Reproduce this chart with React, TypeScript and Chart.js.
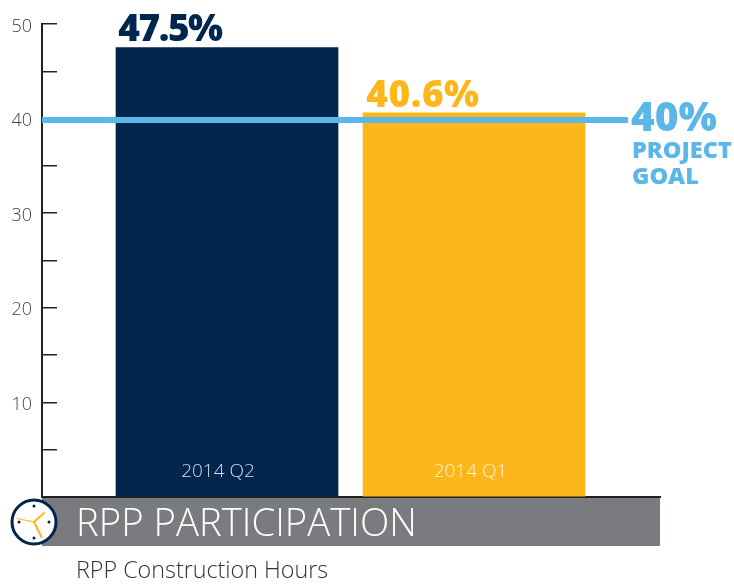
import React, { useEffect, useRef } from "react";
import { Chart, registerables } from "chart.js";

Chart.register(...registerables);

const categories = ["2014 Q2", "2014 Q1"];
const categoryPositions = [1, 2];
const participation = [47.5, 40.6];
const barColors = ["#00264d", "#fdb71a"];
const valueLabels = ["47.5%", "40.6%"];
const goalValue = 39.85;
const goalSpan = [0.251, 2.6235];
const goalLabel = "40%";
const goalCaption = ["PROJECT", "GOAL"];
const yTicksLabelled = [10, 20, 30, 40, 50];
const title = "RPP PARTICIPATION";
const subtitle = "RPP Construction Hours";
const BLUE = "#5ab7e8";
const FONT = '"Open Sans", "Noto Sans", sans-serif';

const decorations = {
  id: "decorations",
  afterDatasetsDraw(chart: any) {
    const { ctx } = chart;
    const barMeta = chart.getDatasetMeta(1);
    ctx.save();
    ctx.textBaseline = "alphabetic";

    barMeta.data.forEach((bar: any, i: number) => {
      ctx.textAlign = "center";
      ctx.fillStyle = barColors[i];
      ctx.font = `800 37px ${FONT}`;
      ctx.letterSpacing = i === 0 ? "-1.5px" : "0.5px";
      ctx.fillText(valueLabels[i], bar.x - 57 + i * 6, bar.y - 7 + i);
      ctx.letterSpacing = "0px";
      ctx.fillStyle = i === 0 ? "#d5dbe3" : "#fff2cf";
      ctx.font = `300 19px ${FONT}`;
      ctx.fillText(categories[i], bar.x - 9 + i * 5.5, 477);
    });

    ctx.textAlign = "left";
    ctx.fillStyle = BLUE;
    ctx.font = `800 40.5px ${FONT}`;
    ctx.fillText(goalLabel, 631, 131);
    ctx.font = `800 23.5px ${FONT}`;
    ctx.fillText(goalCaption[0], 632, 158);
    ctx.fillText(goalCaption[1], 632, 184);

    // title banner
    ctx.fillStyle = "#797b7e";
    ctx.fillRect(42, 498, 618, 48);
    ctx.fillStyle = "#ffffff";
    ctx.font = `300 38.3px ${FONT}`;
    ctx.fillText(title, 76, 536);
    ctx.fillStyle = "#333333";
    ctx.font = `300 23.3px ${FONT}`;
    ctx.fillText(subtitle, 76, 578);

    // clock icon
    const cx = 34, cy = 522;
    ctx.beginPath();
    ctx.arc(cx, cy, 22, 0, Math.PI * 2);
    ctx.fillStyle = "#ffffff";
    ctx.fill();
    ctx.lineWidth = 3;
    ctx.strokeStyle = "#00264d";
    ctx.stroke();
    ctx.fillStyle = "#00264d";
    [[0, -16], [15, 0], [0, 16], [-15, 0]].forEach(([dx, dy]) => {
      ctx.beginPath();
      ctx.arc(cx + dx, cy + dy, 1.5, 0, Math.PI * 2);
      ctx.fill();
    });
    ctx.strokeStyle = "#fdb71a";
    ctx.lineCap = "round";
    ctx.lineWidth = 2;
    ctx.beginPath(); ctx.moveTo(cx, cy); ctx.lineTo(cx + 10, cy - 9); ctx.stroke();
    ctx.beginPath(); ctx.moveTo(cx, cy); ctx.lineTo(cx + 7.5, cy + 15); ctx.stroke();
    ctx.lineWidth = 1;
    ctx.beginPath(); ctx.moveTo(cx, cy); ctx.lineTo(cx - 17, cy - 3.5); ctx.stroke();
    ctx.restore();
  },
};

export default function App() {
  const ref = useRef<HTMLCanvasElement>(null);
  useEffect(() => {
    const chart = new Chart(ref.current as HTMLCanvasElement, {
      type: "bar",
      data: {
        datasets: [
          {
            type: "line",
            data: goalSpan.map((x) => ({ x, y: goalValue })),
            borderColor: BLUE,
            borderWidth: 6,
            pointRadius: 0,
            order: 0,
          },
          {
            type: "bar",
            data: categoryPositions.map((x, i) => ({ x, y: participation[i] })),
            backgroundColor: barColors,
            borderWidth: 0,
            barThickness: 222,
            order: 1,
          },
        ],
      } as any,
      options: {
        animation: false,
        responsive: false,
        layout: { padding: { left: 0, top: 24, right: 74, bottom: 87 } },
        plugins: { legend: { display: false }, tooltip: { enabled: false } },
        scales: {
          x: {
            type: "linear",
            offset: false,
            min: 0.251,
            max: 2.753,
            afterFit: (s: any) => { s.height = 0; s.paddingLeft = 0; s.paddingRight = 0; },
            grid: { display: false },
            ticks: { display: false },
            border: { display: true, color: "#222222", width: 2 },
          },
          y: {
            min: 0,
            max: 50,
            afterFit: (s: any) => { s.width = 42; s.paddingTop = 0; s.paddingBottom = 0; },
            grid: { drawOnChartArea: false, drawTicks: true, tickLength: -15, color: "#222222", lineWidth: 1.5 },
            border: { display: true, color: "#222222", width: 2 },
            ticks: {
              stepSize: 5,
              padding: 25,
              labelOffset: 2.5,
              color: "#444444",
              font: { family: FONT, size: 18, weight: "300" },
              callback: (v: any) => (yTicksLabelled.includes(Number(v)) ? String(v) : ""),
            },
          },
        },
      } as any,
      plugins: [decorations],
    });
    return () => chart.destroy();
  }, []);
  return (
    <canvas
      ref={ref}
      width={734}
      height={584}
      style={{ position: "absolute", left: 0, top: 0, width: 734, height: 584, display: "block" }}
    />
  );
}
